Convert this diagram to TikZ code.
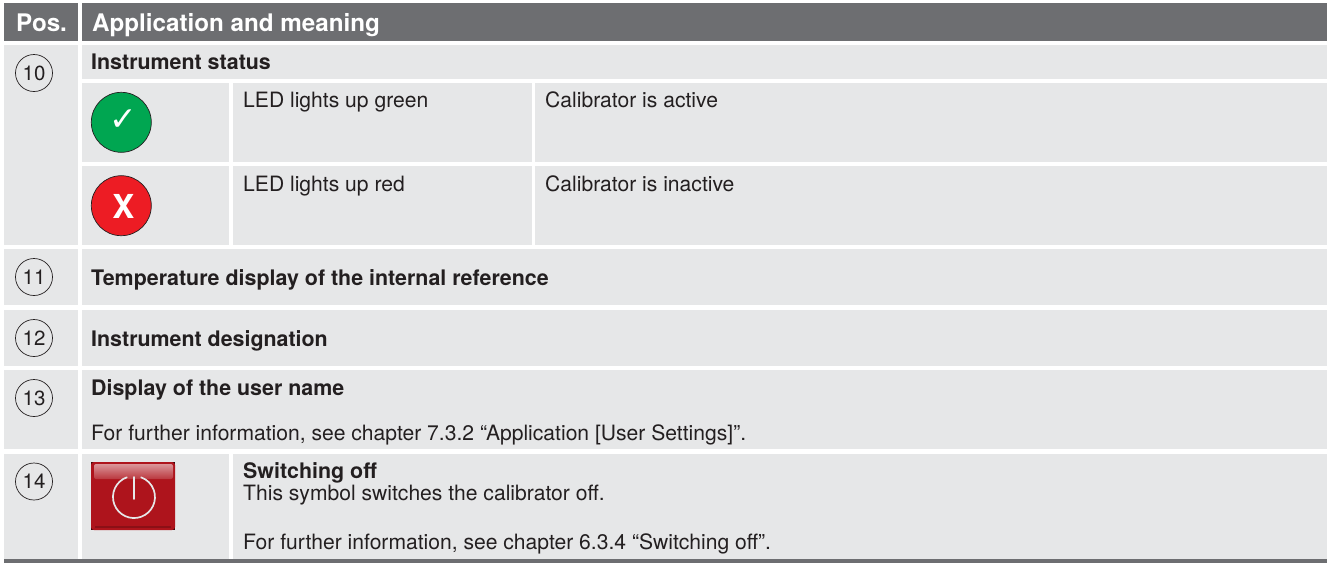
\documentclass[tikz,border=0pt]{standalone}
\usepackage{fontspec}
\setmainfont{TeX Gyre Heros}
\newfontfamily\symfont{DejaVu Sans}
\definecolor{hdr}{HTML}{6D6E71}
\definecolor{cell}{HTML}{E6E7E8}
\definecolor{txt}{HTML}{231F20}
\definecolor{okgreen}{HTML}{00A651}
\definecolor{badred}{HTML}{ED1C24}
\definecolor{pwr}{HTML}{AE141C}
\tikzset{
 x=1pt,y=-1pt,
 tx/.style={anchor=base west,inner sep=0pt,text=txt,font=\fontsize{21.1}{24}\selectfont},
 bd/.style={tx,font=\fontsize{21.4}{24}\selectfont\bfseries},
 hd/.style={anchor=base west,inner sep=0pt,text=white,font=\fontsize{24.2}{28}\selectfont\bfseries},
 num/.style={circle,draw=txt,line width=0.7pt,minimum size=37pt,inner sep=0pt,text=txt,font=\fontsize{20.5}{22}\selectfont},
 led/.style={circle,draw=txt,line width=0.7pt,minimum size=60pt,inner sep=0pt,text=white}
}
\newcommand{\cellbox}[4]{\fill[cell] (#1,#2) rectangle (#3,#4);}
\begin{document}
\begin{tikzpicture}
\useasboundingbox (0,0) rectangle (1327,563);
\fill[white] (0,0) rectangle (1327,563);
% header
\fill[hdr] (4,3) rectangle (78,41);
\fill[hdr] (82,3) rectangle (1327,41);
% left column
\cellbox{4}{45}{78}{245}
\cellbox{4}{249}{78}{305}
\cellbox{4}{310}{78}{366}
\cellbox{4}{370}{78}{449}
\cellbox{4}{454}{78}{559}
% main column
\cellbox{82}{45}{1327}{79}
\cellbox{82}{83}{229}{162}
\cellbox{233}{83}{532}{162}
\cellbox{535}{83}{1327}{162}
\cellbox{82}{166}{229}{245}
\cellbox{233}{166}{532}{245}
\cellbox{535}{166}{1327}{245}
\cellbox{82}{249}{1327}{305}
\cellbox{82}{310}{1327}{366}
\cellbox{82}{370}{1327}{449}
\cellbox{82}{454}{229}{559}
\cellbox{233}{454}{1327}{559}
\fill[hdr] (4,559) rectangle (1327,563);
% header text
\node[hd] (hpos) at (16,31) {Pos.};
\node[hd] (happ) at (92,31) {Application and meaning};
% numbers
\node[num] (n10) at (34,73) {10};
\node[num] (n11) at (34,277) {11};
\node[num] (n12) at (34,338) {12};
\node[num] (n13) at (34,398) {13};
\node[num] (n14) at (34,481.5) {14};
% LEDs
\node[led,fill=okgreen] (ledg) at (121.3,122.3) {};
\node[led,fill=badred] (ledr) at (121.3,205.7) {};
\node[inner sep=0pt,text=white,font=\fontsize{33}{34}\symfont] (chk) at (123.5,120) {✓};
\node[inner sep=0pt,text=white,font=\fontsize{33}{34}\selectfont\bfseries] (xmk) at (123.5,206) {X};
% texts
\node[bd] (t10) at (91,69) {Instrument status};
\node[tx] (g1) at (243,107) {LED lights up green};
\node[tx] (g2) at (545,107) {Calibrator is active};
\node[tx] (r1) at (243,191) {LED lights up red};
\node[tx] (r2) at (545,191) {Calibrator is inactive};
\node[bd] (t11) at (91,285) {Temperature display of the internal reference};
\node[bd] (t12) at (91,346) {Instrument designation};
\node[bd] (t13) at (91,395) {Display of the user name};
\node[tx] (t13b) at (91,440) {For further information, see chapter 7.3.2 “Application [User Settings]”.};
\node[bd] (t14) at (243,478) {Switching off};
\node[tx] (t14b) at (243,500) {This symbol switches the calibrator off.};
\node[tx] (t14c) at (243,549) {For further information, see chapter 6.3.4 “Switching off”.};
% power button
\fill[black!70!pwr] (91,462) rectangle (175,530);
\fill[pwr,rounded corners=3pt] (91,462) rectangle (175,530);
\shade[top color=pwr!45!white,bottom color=pwr!85!white,rounded corners=2pt] (94,464) rectangle (173,479);
\fill[pwr!80!black] (95,526) rectangle (171,527.5);
\draw[cell,line width=1.7pt,line cap=round] (126.8,477.3) arc[start angle=110,end angle=430,radius=21pt];
\draw[cell,line width=1.7pt,line cap=round] (134,477) -- (134,499);
\end{tikzpicture}
\end{document}
